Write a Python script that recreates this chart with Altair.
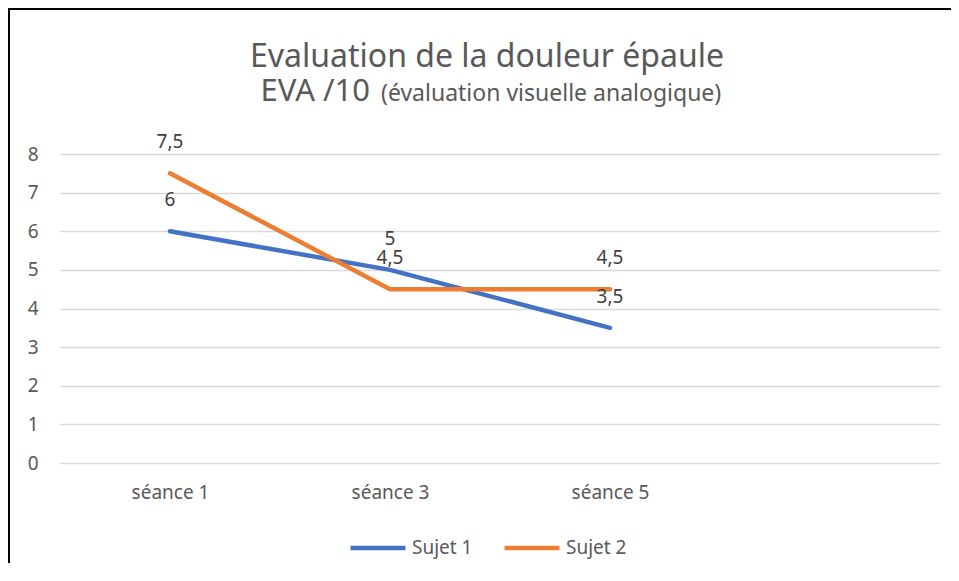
import altair as alt
import pandas as pd

seances = ["séance 1", "séance 3", "séance 5"]
x_domain = ["séance 1", "séance 3", "séance 5", " "]
sujet1 = [6, 5, 3.5]
sujet2 = [7.5, 4.5, 4.5]
series = ["Sujet 1", "Sujet 2"]
colors = ["#4472C4", "#ED7D31"]
y_ticks = [0, 1, 2, 3, 4, 5, 6, 7, 8]

rows = []
for name, vals in zip(series, [sujet1, sujet2]):
    for s, v in zip(seances, vals):
        rows.append({"seance": s, "serie": name, "valeur": v})
df = pd.DataFrame(rows)

FONT = "Noto Sans"
GREY = "#595959"

x_scale = alt.Scale(type="point", domain=x_domain, padding=0.5)
y_scale = alt.Scale(domain=[0, 8], nice=False)
x_axis = alt.Axis(title=None, labelAngle=0, ticks=False, domain=False, grid=False,
                  labelPadding=20, labelFontSize=19, labelColor=GREY, labelFont=FONT)
y_axis = alt.Axis(title=None, values=y_ticks, ticks=False, domain=False, grid=True,
                  gridColor="#D9D9D9", gridWidth=1.6, labelPadding=22,
                  labelFontSize=19, labelColor=GREY, labelFont=FONT)

x_enc = alt.X("seance:N", scale=x_scale, sort=x_domain, axis=x_axis)
y_enc = alt.Y("valeur:Q", scale=y_scale, axis=y_axis)

base = alt.Chart(df)

lines = base.mark_line(strokeWidth=4.5, strokeCap="round", strokeJoin="round").encode(
    x=x_enc, y=y_enc,
    color=alt.Color("serie:N", scale=alt.Scale(domain=series, range=colors),
                    legend=alt.Legend(title=None, orient="none", legendX=288, legendY=364,
                                      direction="horizontal", symbolType="stroke",
                                      symbolSize=3025, symbolStrokeWidth=4.5,
                                      labelFontSize=19, labelColor=GREY, labelFont=FONT,
                                      labelOffset=4, columnPadding=22, padding=0)),
    detail="serie:N",
)

labels = base.transform_calculate(
    lab="replace(toString(datum.valeur), '.', ',')"
).mark_text(dy=-31, fontSize=19, color="#404040", font=FONT, baseline="middle").encode(
    x=x_enc, y=y_enc, text="lab:N",
)

title1 = alt.Chart(pd.DataFrame({"t": ["Evaluation de la douleur épaule"]})).mark_text(
    fontSize=32, color=GREY, font=FONT, align="center", baseline="alphabetic"
).encode(x=alt.value(427), y=alt.value(-87), text="t:N")

title2a = alt.Chart(pd.DataFrame({"t": ["EVA /10"]})).mark_text(
    fontSize=31, color=GREY, font=FONT, align="right", baseline="alphabetic"
).encode(x=alt.value(310), y=alt.value(-53), text="t:N")

title2b = alt.Chart(pd.DataFrame({"t": ["(évaluation visuelle analogique)"]})).mark_text(
    fontSize=23, color=GREY, font=FONT, align="left", baseline="alphabetic"
).encode(x=alt.value(321), y=alt.value(-53), text="t:N")

border_left = alt.Chart(pd.DataFrame({"a": [0]})).mark_rule(color="black", strokeWidth=2).encode(
    x=alt.value(-51), y=alt.value(-146), y2=alt.value(430))
border_top = alt.Chart(pd.DataFrame({"a": [0]})).mark_rule(color="black", strokeWidth=2).encode(
    x=alt.value(-52), x2=alt.value(900), y=alt.value(-145))

chart = alt.layer(lines, labels, title1, title2a, title2b, border_left, border_top).properties(
    width=880, height=309,
    padding={"left": 52, "top": 146, "right": 11, "bottom": 100},
    autosize=alt.AutoSizeParams(type="none"),
).configure(background="white", view=alt.ViewConfig(stroke="transparent", strokeWidth=0))

chart.save("out.html", embed_options={"renderer": "svg", "actions": False})
